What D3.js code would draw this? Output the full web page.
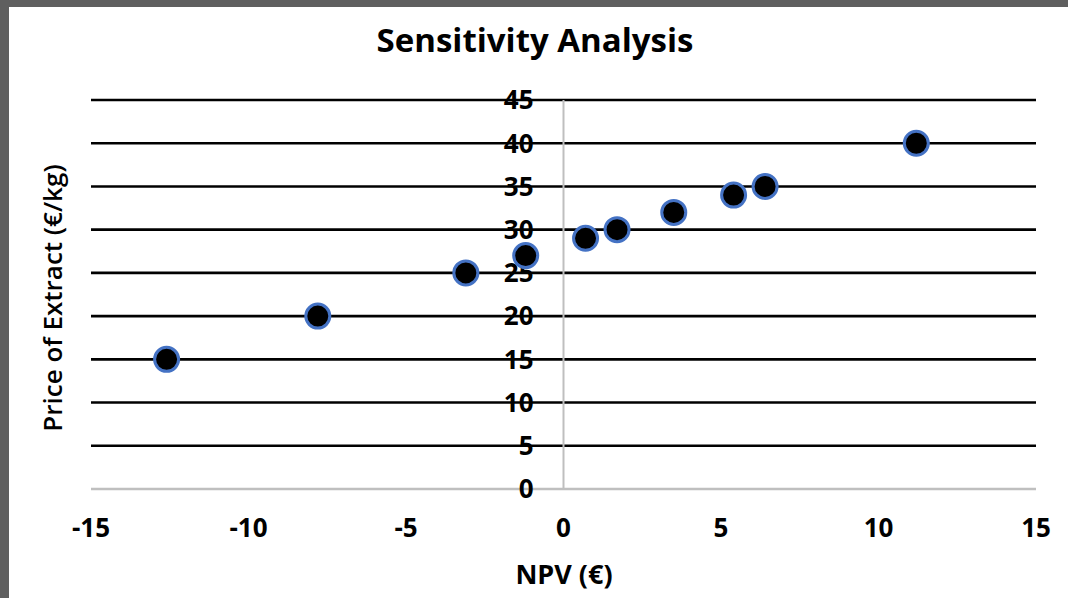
<!DOCTYPE html>
<html>
<head>
<meta charset="utf-8">
<script src="https://cdn.jsdelivr.net/npm/d3@7"></script>
<style>
  body { margin: 0; background: #5f5f5f; }
  svg { display: block; }
</style>
</head>
<body>
<div id="chart"></div>
<script>
// NPV (x) vs price of extract (y)
const npv = [-12.6, -7.8, -3.1, -1.2, 0.7, 1.7, 3.5, 5.4, 6.4, 11.2];
const price = [15, 20, 25, 27, 29, 30, 32, 34, 35, 40];
const xTicks = [-15, -10, -5, 0, 5, 10, 15];
const yTicks = [0, 5, 10, 15, 20, 25, 30, 35, 40, 45];

const W = 1068, H = 598;
const svg = d3.select("#chart").append("svg")
    .attr("width", W)
    .attr("height", H);

// grey frame round the white chart area
svg.append("rect").attr("width", W).attr("height", H).attr("fill", "#5f5f5f");
svg.append("rect").attr("x", 9).attr("y", 7).attr("width", W - 9).attr("height", H - 7).attr("fill", "#fff");

const x = d3.scaleLinear().domain([-15, 15]).range([91, 1036]);
const y = d3.scaleLinear().domain([0, 45]).range([489, 100]);

const font = "'Open Sans', 'Liberation Sans', sans-serif";

// horizontal gridlines
svg.selectAll("line.grid")
    .data(yTicks.filter(d => d !== 0))
    .enter()
    .append("line")
    .attr("class", "grid")
    .attr("x1", x(-15))
    .attr("x2", x(15))
    .attr("y1", d => y(d))
    .attr("y2", d => y(d))
    .attr("stroke", "#000")
    .attr("stroke-width", 2.6);

// axes lines
svg.append("line")
    .attr("x1", x(-15)).attr("x2", x(15))
    .attr("y1", y(0)).attr("y2", y(0))
    .attr("stroke", "#bfbfbf").attr("stroke-width", 2.5);
svg.append("line")
    .attr("x1", x(0)).attr("x2", x(0))
    .attr("y1", y(45)).attr("y2", y(0))
    .attr("stroke", "#bfbfbf").attr("stroke-width", 2);

// y tick labels sit next to the vertical axis
svg.selectAll("text.ytick")
    .data(yTicks)
    .enter()
    .append("text")
    .attr("class", "ytick")
    .attr("x", x(0) - 30)
    .attr("y", d => y(d))
    .attr("dy", "0.36em")
    .attr("text-anchor", "end")
    .attr("font-family", font)
    .attr("font-weight", 700)
    .attr("font-size", 26)
    .attr("fill", "#000")
    .text(d => d);

// x tick labels
svg.selectAll("text.xtick")
    .data(xTicks)
    .enter()
    .append("text")
    .attr("class", "xtick")
    .attr("x", d => x(d))
    .attr("y", 528)
    .attr("dy", "0.36em")
    .attr("text-anchor", "middle")
    .attr("font-family", font)
    .attr("font-weight", 700)
    .attr("font-size", 26)
    .attr("fill", "#000")
    .text(d => d);

// points
svg.selectAll("circle")
    .data(npv)
    .enter()
    .append("circle")
    .attr("cx", d => x(d))
    .attr("cy", (d, i) => y(price[i]))
    .attr("r", 12)
    .attr("fill", "#000")
    .attr("stroke", "#4472c4")
    .attr("stroke-width", 3);

// titles
svg.append("text")
    .attr("x", 535).attr("y", 40)
    .attr("dy", "0.36em")
    .attr("text-anchor", "middle")
    .attr("font-family", font)
    .attr("font-weight", 700)
    .attr("font-size", 33)
    .text("Sensitivity Analysis");

svg.append("text")
    .attr("x", 564).attr("y", 574)
    .attr("dy", "0.36em")
    .attr("text-anchor", "middle")
    .attr("font-family", font)
    .attr("font-weight", 700)
    .attr("font-size", 27)
    .text("NPV (€)");

svg.append("text")
    .attr("transform", "translate(53,298) rotate(-90)")
    .attr("dy", "0.36em")
    .attr("text-anchor", "middle")
    .attr("font-family", font)
    .attr("font-weight", 600)
    .attr("font-size", 26)
    .text("Price of Extract (€/kg)");
</script>
</body>
</html>
